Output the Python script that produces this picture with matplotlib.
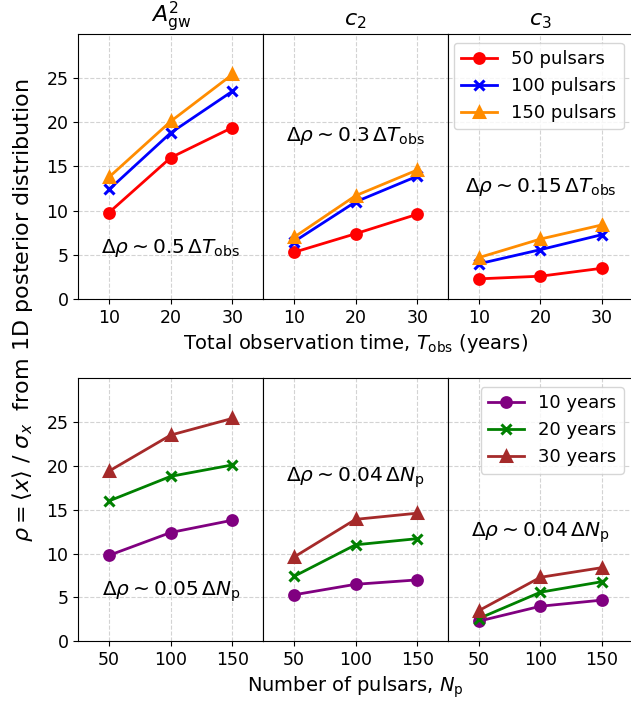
import numpy as np
import matplotlib
matplotlib.use('Agg')
import matplotlib.pyplot as plt

# signal-to-noise rho for each parameter: rows = number of pulsars, cols = T_obs
T_obs = [10, 20, 30]
N_p = [50, 100, 150]
params = [r'$A^2_{\rm gw}$', r'$c_2$', r'$c_3$']

rho_A = [[9.8, 16.0, 19.4],
         [12.4, 18.8, 23.5],
         [13.8, 20.1, 25.4]]
rho_c2 = [[5.3, 7.4, 9.6],
          [6.5, 11.0, 13.9],
          [7.0, 11.7, 14.6]]
rho_c3 = [[2.3, 2.6, 3.5],
          [4.0, 5.6, 7.3],
          [4.7, 6.8, 8.4]]

top_notes = [r'$\Delta\rho \sim 0.5\,\Delta T_{\rm obs}$',
             r'$\Delta\rho \sim 0.3\,\Delta T_{\rm obs}$',
             r'$\Delta\rho \sim 0.15\,\Delta T_{\rm obs}$']
top_note_y = [5.8, 18.4, 12.7]
bot_notes = [r'$\Delta\rho \sim 0.05\,\Delta N_{\rm p}$',
             r'$\Delta\rho \sim 0.04\,\Delta N_{\rm p}$',
             r'$\Delta\rho \sim 0.04\,\Delta N_{\rm p}$']
bot_note_y = [5.7, 18.6, 12.4]

pulsar_labels = ['50 pulsars', '100 pulsars', '150 pulsars']
year_labels = ['10 years', '20 years', '30 years']
top_colors = ['red', 'blue', 'darkorange']
bot_colors = ['purple', 'green', 'brown']
markers = ['o', 'x', '^']

plt.rcParams['font.size'] = 12

fig = plt.figure(figsize=(6.31, 7.04), dpi=100)
gs_top = fig.add_gridspec(1, 3, left=0.124, right=1.003, top=0.952, bottom=0.575, wspace=0)
gs_bot = fig.add_gridspec(1, 3, left=0.124, right=1.003, top=0.463, bottom=0.089, wspace=0)

data = [np.array(rho_A), np.array(rho_c2), np.array(rho_c3)]

for j in range(3):
    ax = fig.add_subplot(gs_top[0, j])
    for i in range(3):
        ax.plot(T_obs, data[j][i], color=top_colors[i], marker=markers[i],
                lw=2, ms=7, mew=2.2, label=pulsar_labels[i])
    ax.set_xlim(5, 35)
    ax.set_ylim(0, 30)
    ax.set_xticks(T_obs)
    ax.set_yticks([0, 5, 10, 15, 20, 25])
    ax.grid(ls='--', color='lightgray', lw=0.8)
    ax.set_title(params[j], fontsize=16)
    ax.text(20, top_note_y[j], top_notes[j], ha='center', va='center', fontsize=14.5)
    ax.tick_params(labelsize=12.5)
    if j > 0:
        ax.tick_params(axis='y', left=False, labelleft=False)
    if j == 1:
        ax.set_xlabel(r'Total observation time, $T_{\rm obs}$ (years)', fontsize=14)
    if j == 2:
        ax.legend(loc='upper right', fontsize=13)

for j in range(3):
    ax = fig.add_subplot(gs_bot[0, j])
    for i in range(3):
        ax.plot(N_p, data[j][:, i], color=bot_colors[i], marker=markers[i],
                lw=2, ms=7, mew=2.2, label=year_labels[i])
    ax.set_xlim(25, 175)
    ax.set_ylim(0, 30)
    ax.set_xticks(N_p)
    ax.set_yticks([0, 5, 10, 15, 20, 25])
    ax.grid(ls='--', color='lightgray', lw=0.8)
    ax.text(100, bot_note_y[j], bot_notes[j], ha='center', va='center', fontsize=14.5)
    ax.tick_params(labelsize=12.5)
    if j > 0:
        ax.tick_params(axis='y', left=False, labelleft=False)
    if j == 1:
        ax.set_xlabel(r'Number of pulsars, $N_{\rm p}$', fontsize=14)
    if j == 2:
        ax.legend(loc='upper right', fontsize=13)

fig.text(0.036, 0.56,
         r'$\rho = \langle x \rangle\ /\ \sigma_x$  from 1D posterior distribution',
         rotation=90, ha='center', va='center', fontsize=16)

fig.savefig('out.png', dpi=100)
